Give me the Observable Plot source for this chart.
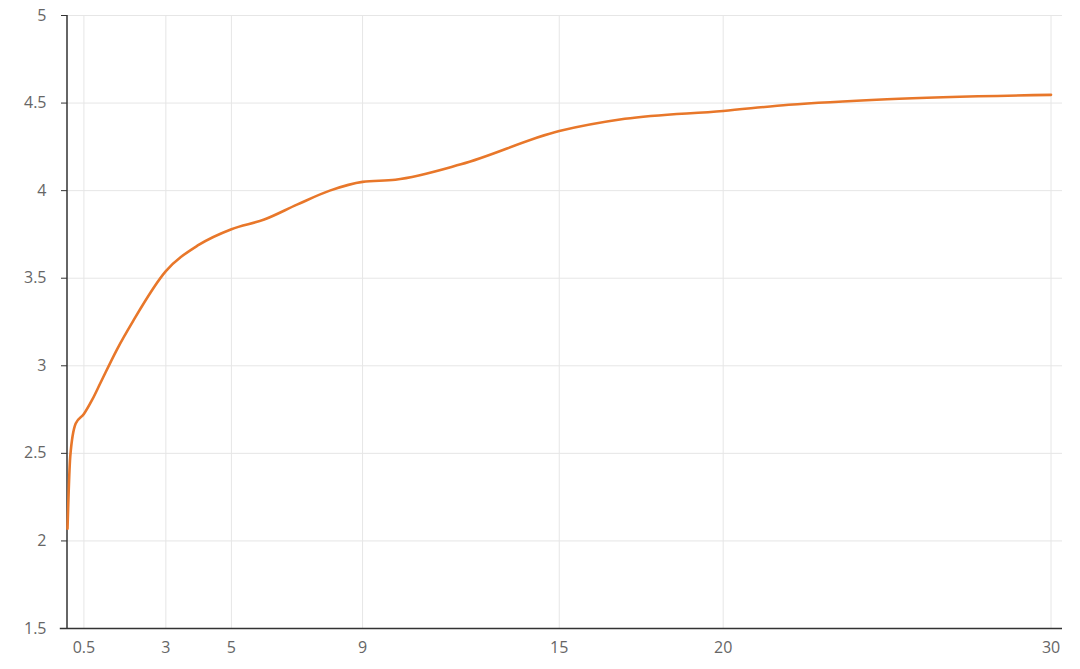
<!DOCTYPE html>
<html>
<head>
<meta charset="utf-8">
<script src="https://cdn.jsdelivr.net/npm/d3@7"></script>
<script src="https://cdn.jsdelivr.net/npm/@observablehq/plot@0.6"></script>
<style>
  html, body { margin: 0; padding: 0; background: #ffffff; }
  #chart { width: 1080px; height: 669px; }
</style>
</head>
<body>
<div id="chart"></div>
<script>
// Tenor (years) and yield values
const tenors = [0, 0.083, 0.25, 0.5, 0.75, 1, 1.5, 2, 3, 4, 5, 6, 7, 8, 9, 10, 12, 15, 17, 20, 22, 25, 30];
const yields = [2.07, 2.48, 2.67, 2.725, 2.805, 2.90, 3.09, 3.255, 3.54, 3.69, 3.78, 3.835, 3.92, 4.0, 4.05, 4.062, 4.15, 4.34, 4.41, 4.455, 4.49, 4.522, 4.547];
const xTicks = [0.5, 3, 5, 9, 15, 20, 30];
const yTicks = [1.5, 2, 2.5, 3, 3.5, 4, 4.5, 5];

const data = tenors.map((t, i) => ({ t, y: yields[i] }));

const chart = Plot.plot({
  width: 1080,
  height: 669,
  marginTop: 15,
  marginBottom: 41,
  marginLeft: 67,
  marginRight: 18,
  style: { fontFamily: "'Open Sans', 'Noto Sans', sans-serif", fontSize: "16px", background: "#ffffff" },
  x: { domain: [0, 30.35] },
  y: { domain: [1.5, 5] },
  marks: [
    Plot.gridY(yTicks, { stroke: "#e6e6e6", strokeOpacity: 1, strokeWidth: 1 }),
    Plot.gridX(xTicks, { stroke: "#e6e6e6", strokeOpacity: 1, strokeWidth: 1 }),
    Plot.ruleY([1.5], { x1: -0.22, x2: 30.35, stroke: "#333", strokeWidth: 1.5 }),
    Plot.ruleX([0], { y1: 1.5, y2: 5, stroke: "#333", strokeWidth: 1.5, dx: -0.5 }),
    Plot.axisY(yTicks, { tickSize: 6, tickPadding: 15, stroke: "#333", fill: "#666", fontSize: 16, tickFormat: d => String(d), label: null }),
    Plot.axisX(xTicks, { tickSize: 0, tickPadding: 13, fill: "#666", fontSize: 16, tickFormat: d => String(d), label: null }),
    Plot.line(data, { x: "t", y: "y", curve: "monotone-x", stroke: "#e8772a", strokeWidth: 2.6 })
  ]
});

document.getElementById("chart").appendChild(chart);
</script>
</body>
</html>
